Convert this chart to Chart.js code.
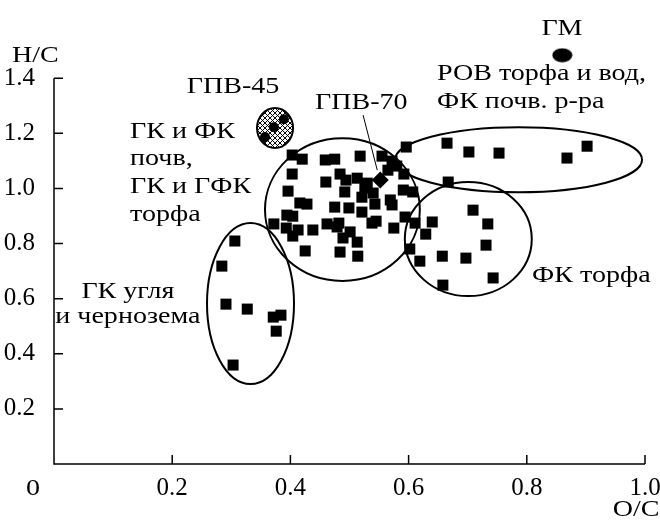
<!DOCTYPE html>
<html>
<head>
<meta charset="utf-8">
<script src="https://cdn.jsdelivr.net/npm/chart.js@4"></script>
<style>
  html, body { margin: 0; background: #fff; }
</style>
</head>
<body>
<canvas id="vkChart" width="660" height="522"></canvas>
<script>
// Диаграмма Ван Кревелена: H/C против O/C

// ГК угля и чернозема
const coalOC = [0.306, 0.284, 0.291, 0.327, 0.371, 0.384, 0.376, 0.303];
const coalHC = [0.809, 0.718, 0.580, 0.562, 0.533, 0.540, 0.482, 0.359];

// ГК и ФК почв, ГК и ГФК торфа
const soilOC = [0.403, 0.420, 0.459, 0.475, 0.518, 0.555, 0.572, 0.403, 0.460, 0.484,
                0.494, 0.513, 0.530, 0.565, 0.580, 0.592, 0.396, 0.492, 0.521, 0.540,
                0.526, 0.591, 0.607, 0.416, 0.428, 0.475, 0.499, 0.521, 0.543, 0.569,
                0.572, 0.394, 0.404, 0.372, 0.393, 0.413, 0.404, 0.438, 0.462, 0.482,
                0.479, 0.538, 0.545, 0.575, 0.594, 0.501, 0.489, 0.513, 0.425, 0.484,
                0.514];
const soilHC = [1.121, 1.106, 1.103, 1.106, 1.117, 1.117, 1.099, 1.052, 1.023, 1.052,
                1.030, 1.037, 1.019, 1.066, 1.081, 1.052, 0.990, 0.987, 0.968, 0.983,
                1.001, 0.994, 0.987, 0.947, 0.943, 0.932, 0.929, 0.914, 0.943, 0.958,
                0.940, 0.903, 0.899, 0.871, 0.856, 0.849, 0.827, 0.849, 0.871, 0.874,
                0.860, 0.874, 0.881, 0.856, 0.896, 0.842, 0.820, 0.805, 0.773, 0.769,
                0.754];

// ФК торфа
const peatFaOC = [0.709, 0.734, 0.640, 0.629, 0.731, 0.602, 0.619, 0.657, 0.697, 0.743, 0.658, 0.611];
const peatFaHC = [0.921, 0.871, 0.878, 0.834, 0.794, 0.780, 0.736, 0.754, 0.747, 0.675, 0.649, 0.874];

// РОВ торфа и вод, ФК почв. р-ра
const domOC = [0.596, 0.665, 0.702, 0.753, 0.868, 0.902, 0.667];
const domHC = [1.150, 1.164, 1.132, 1.128, 1.110, 1.153, 1.023];

// ГПВ-45, ГПВ-70, ГМ
const gpv45OC = [0.357, 0.372, 0.389];
const gpv45HC = [1.186, 1.222, 1.251];
const gpv70OC = [0.552];
const gpv70HC = [1.030];
const gmOC = [0.860];
const gmHC = [1.483];

// Оси
const xTicks = [0.2, 0.4, 0.6, 0.8, 1.0];
const yTicks = [0.2, 0.4, 0.6, 0.8, 1.0, 1.2, 1.4];

// Области (в единицах O/C, H/C)
const regions = [
    { cx: 0.488, cy: 0.923, rx: 0.131, ry: 0.259 },
    { cx: 0.786, cy: 1.104, rx: 0.209, ry: 0.118 },
    { cx: 0.701, cy: 0.816, rx: 0.1074, ry: 0.2067 },
    { cx: 0.3325, cy: 0.582, rx: 0.0736, ry: 0.292 }
];
const gpv45Region = { cx: 0.374, cy: 1.219, rx: 0.0305, ry: 0.0725 };

// Подписи
const notes = [
    { text: 'H/C', x: -0.071, y: 1.48, align: 'left' },
    { text: 'O/C', x: 0.985, y: -0.167, align: 'center' },
    { text: '0', x: -0.0355, y: -0.09, align: 'center' },
    { text: 'ГПВ-45', x: 0.303, y: 1.368, align: 'center' },
    { text: 'ГК и ФК', x: 0.1286, y: 1.205, align: 'left' },
    { text: 'почв,', x: 0.1286, y: 1.105, align: 'left' },
    { text: 'ГК и ГФК', x: 0.1286, y: 1.005, align: 'left' },
    { text: 'торфа', x: 0.1286, y: 0.905, align: 'left' },
    { text: 'ГПВ-70', x: 0.4416, y: 1.310, align: 'left' },
    { text: 'ГМ', x: 0.8596, y: 1.578, align: 'center' },
    { text: 'РОВ торфа и вод,', x: 0.648, y: 1.415, align: 'left' },
    { text: 'ФК почв. р-ра', x: 0.648, y: 1.313, align: 'left' },
    { text: 'ФК торфа', x: 0.809, y: 0.682, align: 'left' },
    { text: 'ГК угля', x: 0.125, y: 0.624, align: 'center' },
    { text: 'и чернозема', x: 0.125, y: 0.533, align: 'center' }
];
const gpv70Leader = [[0.523, 1.266], [0.547, 1.066]];

const FONT = '23px "Liberation Serif", "Times New Roman", serif';
const STRETCH = 1.22; // шрифт в оригинале шире Times
const INK = '#000';

function toPoints(xs, ys) {
    return xs.map((x, i) => ({ x: x, y: ys[i] }));
}

// Маркер ГМ: сплошной овал
const gmMarker = document.createElement('canvas');
gmMarker.width = 21;
gmMarker.height = 15;
(function() {
    const g = gmMarker.getContext('2d');
    g.fillStyle = INK;
    g.beginPath();
    g.ellipse(10.5, 7.5, 10, 7, 0, 0, Math.PI * 2);
    g.fill();
})();

function ellipsePath(ctx, xs, ys, r) {
    const px = xs.getPixelForValue(r.cx);
    const py = ys.getPixelForValue(r.cy);
    const prx = Math.abs(xs.getPixelForValue(r.cx + r.rx) - px);
    const pry = Math.abs(ys.getPixelForValue(r.cy + r.ry) - py);
    ctx.beginPath();
    ctx.ellipse(px, py, prx, pry, 0, 0, Math.PI * 2);
    return { px, py, prx, pry };
}

const overlay = {
    id: 'overlay',
    beforeDatasetsDraw(chart) {
        const ctx = chart.ctx;
        const xs = chart.scales.x;
        const ys = chart.scales.y;
        ctx.save();
        ctx.strokeStyle = INK;

        // оси с внутренними делениями
        const x0 = xs.getPixelForValue(0);
        const y0 = ys.getPixelForValue(0);
        ctx.lineWidth = 1.5;
        ctx.beginPath();
        ctx.moveTo(x0, ys.getPixelForValue(yTicks[yTicks.length - 1]));
        ctx.lineTo(x0, y0);
        ctx.lineTo(xs.getPixelForValue(xTicks[xTicks.length - 1]), y0);
        yTicks.forEach(v => {
            const p = ys.getPixelForValue(v);
            ctx.moveTo(x0, p);
            ctx.lineTo(x0 + 9, p);
        });
        xTicks.forEach(v => {
            const p = xs.getPixelForValue(v);
            ctx.moveTo(p, y0);
            ctx.lineTo(p, y0 - 9);
        });
        ctx.stroke();

        // эллипсы областей
        ctx.lineWidth = 2;
        regions.forEach(r => {
            ellipsePath(ctx, xs, ys, r);
            ctx.stroke();
        });

        // ГПВ-45: штрихованный овал
        ctx.save();
        const e = ellipsePath(ctx, xs, ys, gpv45Region);
        ctx.clip();
        ctx.lineWidth = 1;
        ctx.beginPath();
        for (let d = -60; d <= 60; d += 5) {
            ctx.moveTo(e.px + d - 30, e.py - 30);
            ctx.lineTo(e.px + d + 30, e.py + 30);
            ctx.moveTo(e.px + d + 30, e.py - 30);
            ctx.lineTo(e.px + d - 30, e.py + 30);
        }
        ctx.stroke();
        ctx.restore();
        ctx.lineWidth = 2;
        ellipsePath(ctx, xs, ys, gpv45Region);
        ctx.stroke();

        ctx.restore();
    },
    afterDraw(chart) {
        const ctx = chart.ctx;
        const xs = chart.scales.x;
        const ys = chart.scales.y;
        ctx.save();
        ctx.fillStyle = INK;
        ctx.strokeStyle = INK;
        ctx.font = FONT;
        ctx.textBaseline = 'middle';
        notes.forEach(n => {
            ctx.save();
            ctx.translate(xs.getPixelForValue(n.x), ys.getPixelForValue(n.y));
            ctx.scale(STRETCH, 1);
            ctx.textAlign = n.align;
            ctx.fillText(n.text, 0, 0);
            ctx.restore();
        });
        ctx.lineWidth = 1;
        ctx.beginPath();
        ctx.moveTo(xs.getPixelForValue(gpv70Leader[0][0]), ys.getPixelForValue(gpv70Leader[0][1]));
        ctx.lineTo(xs.getPixelForValue(gpv70Leader[1][0]), ys.getPixelForValue(gpv70Leader[1][1]));
        ctx.stroke();
        ctx.restore();
    }
};

const squareStyle = {
    pointStyle: 'rect',
    pointRadius: 7.8,
    pointBackgroundColor: INK,
    pointBorderWidth: 0,
    showLine: false
};

new Chart(document.getElementById('vkChart'), {
    type: 'scatter',
    data: {
        datasets: [
            Object.assign({ label: 'ГК угля и чернозема', data: toPoints(coalOC, coalHC) }, squareStyle),
            Object.assign({ label: 'ГК и ФК почв, ГК и ГФК торфа', data: toPoints(soilOC, soilHC) }, squareStyle),
            Object.assign({ label: 'ФК торфа', data: toPoints(peatFaOC, peatFaHC) }, squareStyle),
            Object.assign({ label: 'РОВ торфа и вод, ФК почв. р-ра', data: toPoints(domOC, domHC) }, squareStyle),
            {
                label: 'ГПВ-45',
                data: toPoints(gpv45OC, gpv45HC),
                pointStyle: 'circle',
                pointRadius: 5,
                pointBackgroundColor: INK,
                pointBorderWidth: 0
            },
            {
                label: 'ГПВ-70',
                data: toPoints(gpv70OC, gpv70HC),
                pointStyle: 'rectRot',
                pointRadius: 8.5,
                pointBackgroundColor: INK,
                pointBorderWidth: 0
            },
            {
                label: 'ГМ',
                data: toPoints(gmOC, gmHC),
                pointStyle: gmMarker,
                pointRadius: 8
            }
        ]
    },
    options: {
        responsive: false,
        animation: false,
        events: [],
        layout: {
            padding: { top: 23, right: 15, bottom: 0, left: 0 }
        },
        plugins: {
            legend: { display: false },
            tooltip: { enabled: false }
        },
        scales: {
            x: {
                type: 'linear',
                min: 0,
                max: 1.0,
                grid: { display: false },
                border: { display: false },
                afterBuildTicks: s => { s.ticks = xTicks.map(v => ({ value: v })); },
                afterFit: s => { s.height = 58; s.paddingLeft = 0; s.paddingRight = 0; },
                ticks: {
                    autoSkip: false,
                    maxRotation: 0,
                    padding: 1,
                    color: INK,
                    font: { family: '"Liberation Serif", serif', size: 25 },
                    callback: v => v.toFixed(1)
                }
            },
            y: {
                type: 'linear',
                min: 0,
                max: 1.6,
                grid: { display: false },
                border: { display: false },
                afterBuildTicks: s => { s.ticks = yTicks.map(v => ({ value: v })); },
                afterFit: s => { s.width = 54; s.paddingTop = 0; s.paddingBottom = 0; },
                ticks: {
                    autoSkip: false,
                    padding: 11,
                    color: INK,
                    font: { family: '"Liberation Serif", serif', size: 25 },
                    callback: v => v.toFixed(1)
                }
            }
        }
    },
    plugins: [overlay]
});
</script>
</body>
</html>
